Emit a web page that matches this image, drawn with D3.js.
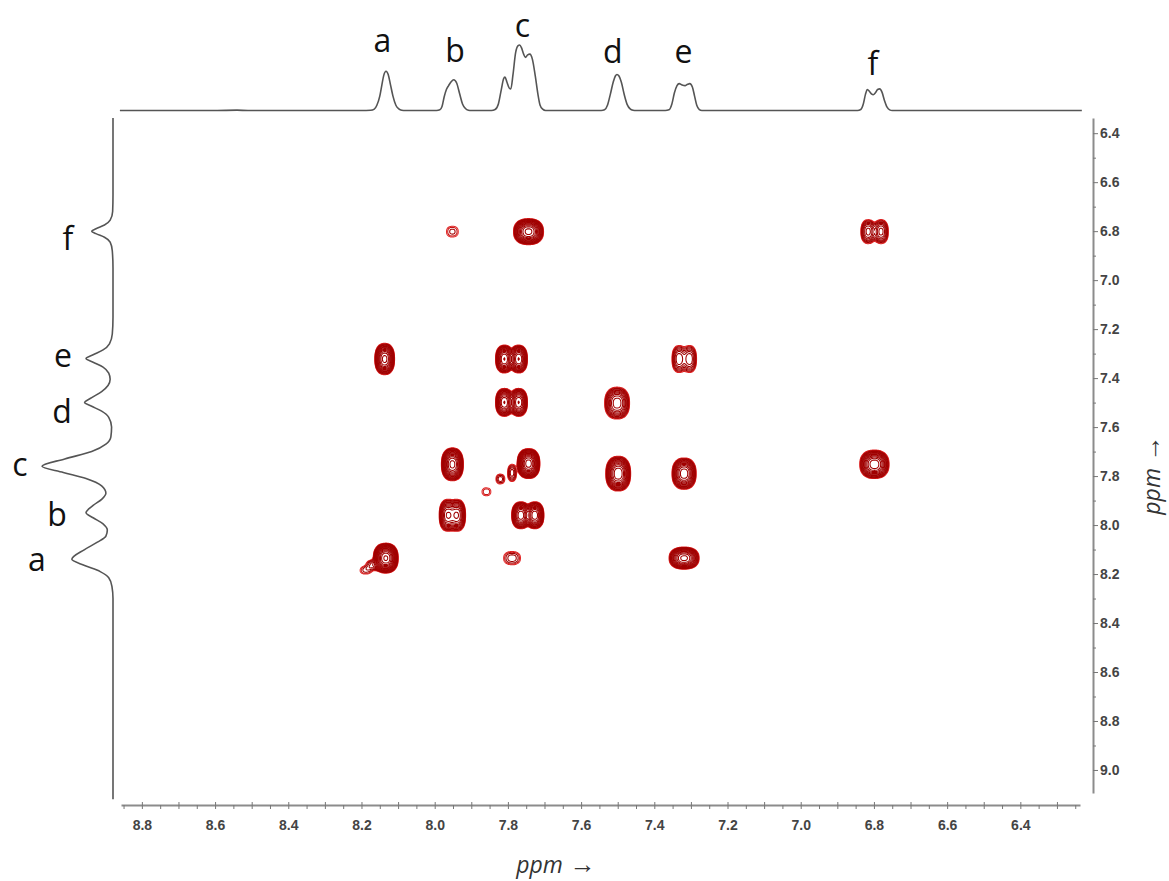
<!DOCTYPE html>
<html><head><meta charset="utf-8">
<script src="https://cdn.jsdelivr.net/npm/d3@7"></script>
<style>body{margin:0;background:#fff}svg{display:block}</style>
</head><body>
<svg id="chart" width="1169" height="881"></svg>
<script>
// ---------------- DATA ----------------
const xTickLabels = [8.8, 8.6, 8.4, 8.2, 8.0, 7.8, 7.6, 7.4, 7.2, 7.0, 6.8, 6.6, 6.4];
const yTickLabels = [6.4, 6.6, 6.8, 7.0, 7.2, 7.4, 7.6, 7.8, 8.0, 8.2, 8.4, 8.6, 8.8, 9.0];
const peakNames = ["a", "b", "c", "d", "e", "f"];
const peakShifts = [8.14, 7.95, 7.76, 7.50, 7.32, 6.80];

// top 1D projection: [ppm, relative intensity]
const topTrace = [
  [8.86,0],[8.60,0],[8.54,0.5],[8.51,0],[8.20,0],
  [8.175,0.3],[8.165,2],[8.158,8],[8.150,22],[8.144,40],[8.139,54],[8.133,60],[8.127,55],[8.121,40],[8.114,22],[8.106,8],[8.098,2.5],[8.090,0.5],[8.08,0],
  [7.995,0],[7.986,1],[7.980,6],[7.974,21],[7.968,32],[7.962,38],[7.955,44],[7.948,47],[7.940,42],[7.932,26],[7.924,10],[7.916,3],[7.908,0.5],[7.90,0],
  [7.845,0],[7.835,1.5],[7.826,10],[7.818,32],[7.812,48],[7.808,51],[7.803,44],[7.796,34],[7.792,33],[7.786,55],[7.779,88],[7.772,99],[7.768,100],[7.763,96],[7.757,86],[7.752,81],[7.746,85],[7.740,86],[7.733,78],[7.725,52],[7.718,25],[7.712,8],[7.705,2],[7.697,0],
  [7.545,0],[7.536,1],[7.528,8],[7.520,25],[7.512,44],[7.506,53],[7.502,55],[7.497,53],[7.490,43],[7.482,24],[7.474,9],[7.466,2.5],[7.458,0.5],[7.45,0],
  [7.37,0],[7.360,1],[7.352,10],[7.345,27],[7.338,38],[7.332,41],[7.324,39],[7.316,38],[7.309,40],[7.303,41],[7.296,36],[7.290,22],[7.284,8],[7.277,1.5],[7.27,0],
  [6.845,0],[6.836,1.5],[6.829,10],[6.823,25],[6.818,32],[6.812,29],[6.806,25],[6.802,24],[6.796,27],[6.790,32],[6.784,33],[6.778,28],[6.771,15],[6.764,5],[6.757,1],[6.75,0],
  [6.50,0],[6.232,0]
];

// left 1D projection: [ppm, relative intensity]
const leftTrace = [
  [6.338,0],[6.65,0],[6.72,0.5],[6.755,4],[6.775,12],[6.79,24],[6.800,30],[6.81,24],[6.825,12],[6.845,4],[6.88,1],[6.95,0],
  [7.15,0],[7.22,1],[7.26,5],[7.285,14],[7.305,28],[7.320,38],[7.335,28],[7.355,14],[7.38,6],[7.405,4],
  [7.43,7],[7.455,16],[7.48,30],[7.500,40],[7.515,30],[7.535,16],[7.56,6],[7.60,2],[7.64,3],
  [7.67,10],[7.70,30],[7.73,68],[7.760,100],[7.785,70],[7.81,38],[7.84,16],[7.87,10],
  [7.895,16],[7.92,28],[7.950,38],[7.97,28],[7.995,14],[8.02,8],[8.045,10],
  [8.07,22],[8.10,40],[8.140,58],[8.165,40],[8.19,18],[8.215,6],[8.25,1.5],[8.30,0],[9.12,0]
];

// 2D cross peaks: [F2 ppm, F1 ppm, intensity, half-width F2 (ppm), half-width F1 (ppm)]
const crossPeaks = [
  [7.953, 6.800, 1.8, 0.016, 0.022],
  [7.745, 6.800, 45, 0.041, 0.053],
  [6.817, 6.800, 8, 0.020, 0.049],
  [6.782, 6.800, 8, 0.020, 0.049],
  [8.138, 7.320, 35, 0.027, 0.064],
  [7.811, 7.320, 25, 0.024, 0.057],
  [7.772, 7.320, 25, 0.024, 0.057],
  [7.334, 7.320, 7, 0.019, 0.055],
  [7.305, 7.320, 7, 0.019, 0.055],
  [7.811, 7.497, 25, 0.024, 0.057],
  [7.772, 7.497, 25, 0.024, 0.057],
  [7.503, 7.500, 18, 0.034, 0.065],
  [7.953, 7.750, 45, 0.030, 0.067],
  [7.745, 7.747, 60, 0.031, 0.061],
  [7.790, 7.785, 4, 0.012, 0.035],
  [7.822, 7.810, 2.5, 0.012, 0.020],
  [7.860, 7.862, 1.6, 0.012, 0.016],
  [7.500, 7.788, 40, 0.034, 0.071],
  [7.320, 7.788, 30, 0.033, 0.064],
  [6.800, 7.750, 30, 0.040, 0.058],
  [7.966, 7.958, 20, 0.023, 0.065],
  [7.940, 7.958, 20, 0.023, 0.065],
  [7.766, 7.958, 30, 0.025, 0.055],
  [7.728, 7.958, 30, 0.025, 0.055],
  [8.135, 8.133, 70, 0.034, 0.061],
  [8.168, 8.160, 3, 0.020, 0.020],
  [8.190, 8.183, 1.8, 0.015, 0.015],
  [7.790, 8.133, 2.5, 0.023, 0.027],
  [7.320, 8.133, 35, 0.041, 0.045]
];

// ---------------- CHART ----------------
const svg = d3.select("#chart");
const xScale = d3.scaleLinear().domain([8.857, 6.237]).range([121, 1080]);
const yScale = d3.scaleLinear().domain([6.338, 9.094]).range([118, 793]);
const topY = d3.scaleLinear().domain([0, 100]).range([110.5, 45]);
const leftX = d3.scaleLinear().domain([0, 100]).range([113, 42]);

const axisColor = "#8c8c8c";
const tickFont = "'Liberation Sans', Arial, sans-serif";
const labelFont = "'Open Sans', 'Noto Sans', sans-serif";

// contour plot
const x0 = xScale.range()[0], y0 = yScale.range()[0];
const W = Math.round(xScale.range()[1] - x0), H = Math.round(yScale.range()[1] - y0);
const grid = new Float64Array(W * H);
const P = 2.4, L0 = 1, q = 1.28;
crossPeaks.forEach(([cx, cy, amp, hx, hy]) => {
  const k = Math.pow(Math.log(amp / L0), 1 / P);
  const sx = Math.abs(xScale(cx + hx) - xScale(cx)) / k;
  const sy = Math.abs(yScale(cy + hy) - yScale(cy)) / k;
  const px = xScale(cx) - x0, py = yScale(cy) - y0;
  const cut = Math.pow(Math.log(amp / 0.01), 1 / P);
  const i0 = Math.max(0, Math.floor(px - cut * sx)), i1 = Math.min(W - 1, Math.ceil(px + cut * sx));
  const j0 = Math.max(0, Math.floor(py - cut * sy)), j1 = Math.min(H - 1, Math.ceil(py + cut * sy));
  for (let j = j0; j <= j1; j++) {
    const ey = Math.pow(Math.abs((j - py) / sy), P);
    for (let i = i0; i <= i1; i++) {
      const ex = Math.pow(Math.abs((i - px) / sx), P);
      grid[j * W + i] += amp * Math.exp(-(ex + ey));
    }
  }
});
const vmax = d3.max(grid);
const levels = [];
for (let n = 0; L0 * Math.pow(q, n) < vmax; n++) levels.push(L0 * Math.pow(q, n));
const contours = d3.contours().size([W, H]).thresholds(levels)(grid);
const levelColor = i => i === 0 ? "#e42a2a" : (i === 1 ? "#c81414" : "#a00000");
svg.append("g").attr("transform", `translate(${x0},${y0})`)
  .selectAll("path").data(contours).join("path")
  .attr("d", d3.geoPath())
  .attr("fill", "none")
  .attr("stroke", (d, i) => levelColor(i))
  .attr("stroke-width", 1.05);

// top 1D trace
svg.append("path").datum(topTrace)
  .attr("d", d3.line().x(d => xScale(d[0])).y(d => topY(d[1])).curve(d3.curveMonotoneX))
  .attr("fill", "none").attr("stroke", "#555").attr("stroke-width", 1.6);

// left 1D trace
svg.append("path").datum(leftTrace)
  .attr("d", d3.line().y(d => yScale(d[0])).x(d => leftX(d[1])).curve(d3.curveMonotoneY))
  .attr("fill", "none").attr("stroke", "#555").attr("stroke-width", 1.6);

// peak labels
const topLabelBase = [52, 62, 37, 63, 63, 75];
const topLabelDx = [-1, 2, 0, -5, 0, -1];
svg.append("g").selectAll("text").data(peakNames).join("text")
  .attr("x", (d, i) => xScale(peakShifts[i]) + topLabelDx[i])
  .attr("y", (d, i) => topLabelBase[i])
  .attr("text-anchor", "middle")
  .attr("font-family", labelFont).attr("font-size", 32).attr("fill", "#111")
  .text(d => d);
const leftLabelX = [37, 57, 20, 62, 63, 68];
const leftLabelDy = [12, 13, 10, 20, 8, 19];
svg.append("g").selectAll("text").data(peakNames).join("text")
  .attr("x", (d, i) => leftLabelX[i])
  .attr("y", (d, i) => yScale(peakShifts[i]) + leftLabelDy[i])
  .attr("text-anchor", "middle")
  .attr("font-family", labelFont).attr("font-size", 32).attr("fill", "#111")
  .text(d => d);

// axes
const isMajor = d => Math.abs(Math.round(d * 5) - d * 5) < 1e-6;
const xMinor = d3.range(177, 124, -1).map(v => v / 20);
const yMinor = d3.range(64, 91).map(v => v / 10);

const gx = svg.append("g").attr("transform", "translate(0,805)")
  .call(d3.axisBottom(xScale).tickValues(xMinor).tickSize(4).tickSizeOuter(0).tickPadding(11)
    .tickFormat(d => xTickLabels.some(t => Math.abs(t - d) < 1e-6) ? d3.format(".1f")(d) : ""));
gx.select(".domain").attr("stroke", axisColor).attr("stroke-width", 2);
gx.selectAll(".tick line").attr("stroke", "#777").attr("y1", d => isMajor(d * 2) ? -3 : 0);
gx.selectAll(".tick text").attr("font-family", tickFont).attr("font-size", 14).attr("font-weight", "bold").attr("fill", "#444");

const gy = svg.append("g").attr("transform", "translate(1093,0)")
  .call(d3.axisRight(yScale).tickValues(yMinor).tickSize(4).tickSizeOuter(0).tickPadding(3)
    .tickFormat(d => yTickLabels.some(t => Math.abs(t - d) < 1e-6) ? d3.format(".1f")(d) : ""));
gy.select(".domain").attr("stroke", axisColor).attr("stroke-width", 2);
gy.selectAll(".tick line").attr("stroke", "#777").attr("x2", d => isMajor(d) ? 5 : 3);
gy.selectAll(".tick text").attr("font-family", tickFont).attr("font-size", 14).attr("font-weight", "bold").attr("fill", "#444");

// axis titles
const xt = svg.append("text").attr("x", 556).attr("y", 873).attr("text-anchor", "middle")
  .attr("font-family", labelFont).attr("font-size", 23).attr("fill", "#333");
xt.append("tspan").attr("font-style", "italic").text("ppm");
xt.append("tspan").attr("font-size", 26).text(" \u2192");

const yt = svg.append("text").attr("transform", "translate(1160,475) rotate(-90)").attr("text-anchor", "middle")
  .attr("font-family", labelFont).attr("font-size", 23).attr("fill", "#333");
yt.append("tspan").attr("font-style", "italic").text("ppm");
yt.append("tspan").attr("font-size", 26).text(" \u2192");
</script>
</body></html>
